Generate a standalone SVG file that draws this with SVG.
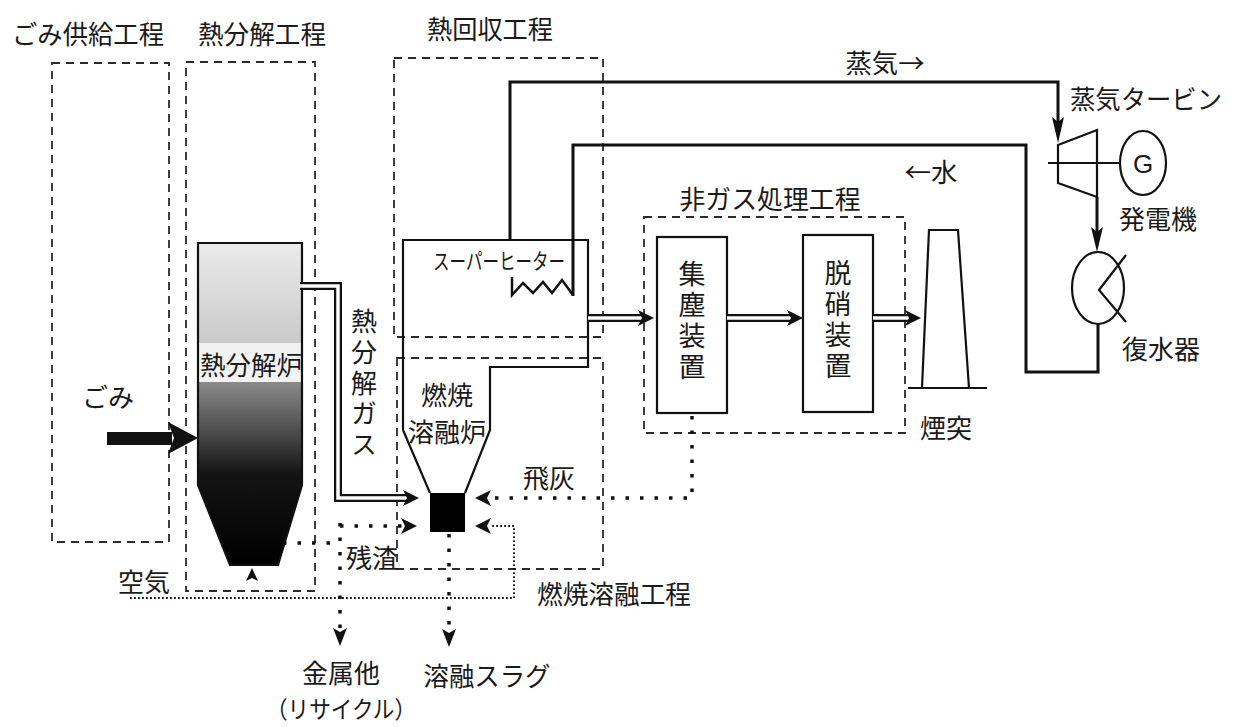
<svg xmlns="http://www.w3.org/2000/svg" width="1238" height="727" viewBox="0 0 1238 727">
  <style>
    .lbl { font-family: "Noto Sans CJK JP", "Liberation Sans", sans-serif; font-size: 26px; fill: #1a1a1a; text-anchor: middle; dominant-baseline: central; }
    .small { font-size: 22px; }
    .vert { writing-mode: vertical-rl; text-orientation: upright; }
    .zone { fill: none; stroke: #2a2a2a; stroke-width: 1.8; stroke-dasharray: 8 6; }
    .eq { fill: none; stroke: #111; stroke-width: 2.2; }
    .pipe { fill: none; stroke: #111; stroke-width: 3; }
    .gasOuter { fill: none; stroke: #111; stroke-width: 8; }
    .gasInner { fill: none; stroke: #fff; stroke-width: 3.5; }
    .dots { fill: none; stroke: #111; stroke-width: 3.5; stroke-dasharray: 3.5 11; }
    .fine { fill: none; stroke: #111; stroke-width: 1.8; stroke-dasharray: 1.8 2.2; }
    .head { fill: #111; stroke: none; }
  </style>
  <defs>
    <linearGradient id="upperBed" x1="0" y1="0" x2="0" y2="1">
      <stop offset="0" stop-color="#ececec"/>
      <stop offset="1" stop-color="#c9c9c9"/>
    </linearGradient>
    <linearGradient id="lowerBed" gradientUnits="userSpaceOnUse" x1="0" y1="382" x2="0" y2="565">
      <stop offset="0" stop-color="#8a8a8a"/>
      <stop offset="0.28" stop-color="#4a4a4a"/>
      <stop offset="0.5" stop-color="#141414"/>
      <stop offset="1" stop-color="#000"/>
    </linearGradient>
    <clipPath id="furnaceClip">
      <path d="M198,243 H302 V485 L278,565 H230 L198,485 Z"/>
    </clipPath>
  </defs>

  <rect width="1238" height="727" fill="#fff"/>

  <!-- process zones -->
  <g id="zone-supply">
    <rect class="zone" x="52" y="63" width="117" height="479"/>
    <text class="lbl" x="88" y="32" textLength="152" lengthAdjust="spacingAndGlyphs">ごみ供給工程</text>
  </g>
  <g id="zone-pyrolysis">
    <rect class="zone" x="186" y="62" width="129" height="529"/>
    <text class="lbl" x="262" y="32" textLength="128" lengthAdjust="spacingAndGlyphs">熱分解工程</text>
  </g>
  <g id="zone-heat-recovery">
    <rect class="zone" x="394" y="58" width="209" height="279"/>
    <text class="lbl" x="490" y="27" textLength="126" lengthAdjust="spacingAndGlyphs">熱回収工程</text>
  </g>
  <g id="zone-melting">
    <rect class="zone" x="397" y="358" width="206" height="211"/>
    <text class="lbl" x="614" y="592" textLength="154" lengthAdjust="spacingAndGlyphs">燃焼溶融工程</text>
  </g>
  <g id="zone-gas-treatment">
    <rect class="zone" x="644" y="217" width="261" height="216"/>
    <text class="lbl" x="770" y="197" textLength="181" lengthAdjust="spacingAndGlyphs">非ガス処理工程</text>
  </g>

  <!-- pyrolysis furnace -->
  <g id="pyrolysis-furnace">
    <g clip-path="url(#furnaceClip)">
      <rect x="195" y="240" width="110" height="104" fill="url(#upperBed)"/>
      <rect x="195" y="343" width="110" height="40" fill="#f2f2f2"/>
      <rect x="195" y="382" width="110" height="186" fill="url(#lowerBed)"/>
    </g>
    <path class="eq" d="M198,243 H302 V485 L278,565 H230 L198,485 Z"/>
    <text class="lbl" x="251" y="363" textLength="102" lengthAdjust="spacingAndGlyphs">熱分解炉</text>
  </g>

  <!-- combustion melting furnace with superheater -->
  <g id="melting-furnace">
    <path class="eq" d="M403,430 V240 H588 V367 H490 V430 L465,493 M403,430 L430,493"/>
    <rect x="430" y="493" width="35" height="39" fill="#000"/>
    <text class="lbl small" x="499" y="259" textLength="132" lengthAdjust="spacingAndGlyphs">スーパーヒーター</text>
    <path fill="none" stroke="#111" stroke-width="2.5" d="M512,277 V295 L523,283 L533,293 L543,282 L552,293 L562,280 L573,295"/>
    <text class="lbl" x="447" y="393">燃焼</text>
    <text class="lbl" x="447" y="430">溶融炉</text>
  </g>

  <g id="dust-collector">
    <rect class="eq" x="657" y="237" width="70" height="176"/>
    <text class="lbl vert" x="692" y="322" style="font-size:27px; letter-spacing:4px">集塵装置</text>
  </g>

  <g id="denox">
    <rect class="eq" x="803" y="235" width="70" height="177"/>
    <text class="lbl vert" x="838" y="321" style="font-size:27px; letter-spacing:4px">脱硝装置</text>
  </g>

  <g id="stack">
    <path class="eq" d="M922,388 L929,230 H958 L969,388"/>
    <path class="eq" d="M908,388 H987"/>
    <text class="lbl" x="946" y="426">煙突</text>
  </g>

  <g id="steam-turbine">
    <polygon class="eq" points="1058,145 1097,130 1097,197 1058,183"/>
    <path class="eq" d="M1048,163 H1120"/>
    <text class="lbl" x="1146" y="97" textLength="152" lengthAdjust="spacingAndGlyphs">蒸気タービン</text>
  </g>

  <g id="generator">
    <ellipse class="eq" cx="1143" cy="163" rx="23" ry="32"/>
    <text x="1143" y="164" font-family="Liberation Sans, sans-serif" font-size="26" fill="#1a1a1a" text-anchor="middle" dominant-baseline="central">G</text>
    <text class="lbl" x="1158" y="217">発電機</text>
  </g>

  <g id="condenser">
    <ellipse class="eq" cx="1098" cy="288" rx="26" ry="36"/>
    <polyline class="eq" points="1126,255 1099,290 1126,322"/>
    <text class="lbl" x="1161" y="347">復水器</text>
  </g>

  <!-- flows -->
  <g id="connectors">
    <!-- waste feed -->
    <rect x="107" y="432" width="65" height="13" fill="#111"/>
    <polygon class="head" points="198,438 168,422 174,438 168,454"/>
    <text class="lbl" x="108" y="395">ごみ</text>

    <!-- pyrolysis gas -->
    <path class="gasOuter" d="M300,286 H338 V498 H408"/>
    <path class="gasInner" d="M300,286 H338 V498 H408"/>
    <polygon class="head" points="419,498 403,490 407,498 403,506"/>
    <text class="lbl vert" x="364" y="385" style="letter-spacing:4.6px">熱分解ガス</text>

    <!-- flue gas -->
    <path class="gasOuter" d="M588,318 H643"/>
    <path class="gasInner" d="M588,318 H643"/>
    <polygon class="head" points="654,318 638,310 642,318 638,326"/>
    <path class="gasOuter" d="M727,318 H792"/>
    <path class="gasInner" d="M727,318 H792"/>
    <polygon class="head" points="803,318 787,310 791,318 787,326"/>
    <path class="gasOuter" d="M873,318 H910"/>
    <path class="gasInner" d="M873,318 H910"/>
    <polygon class="head" points="921,318 905,310 909,318 905,326"/>

    <!-- steam / water loop -->
    <path class="pipe" d="M510,240 V82 H1058 V124"/>
    <polygon class="head" points="1058,143 1052,117 1058,122 1064,117"/>
    <text class="lbl" x="885" y="61" textLength="79" lengthAdjust="spacingAndGlyphs">蒸気→</text>
    <path class="pipe" d="M1097,197 V232"/>
    <polygon class="head" points="1097,252 1091,227 1097,232 1103,227"/>
    <path class="pipe" d="M1098,324 V372 H1026 V145 H573 V296"/>
    <text class="lbl" x="931" y="170" textLength="53" lengthAdjust="spacingAndGlyphs">←水</text>

    <!-- fly ash -->
    <path class="dots" d="M692,416 V498 H492"/>
    <polygon class="head" points="475,498 491,490 487,498 491,506"/>
    <text class="lbl" x="549" y="476">飛灰</text>

    <!-- residue -->
    <path class="dots" d="M283,543 H340"/>
    <path class="dots" d="M340,523 V630"/>
    <path class="dots" d="M340,526 H402"/>
    <polygon class="head" points="417,526 401,518 405,526 401,534"/>
    <polygon class="head" points="340,646 333,628 340,632 347,628"/>
    <text class="lbl" x="372" y="556">残渣</text>
    <text class="lbl" x="341" y="671">金属他</text>
    <text class="lbl" x="341" y="707" style="font-size:24px" textLength="150" lengthAdjust="spacingAndGlyphs">（リサイクル）</text>

    <!-- slag -->
    <path class="dots" d="M449,534 V630"/>
    <polygon class="head" points="449,647 442,629 449,633 456,629"/>
    <text class="lbl" x="487" y="674" textLength="127" lengthAdjust="spacingAndGlyphs">溶融スラグ</text>

    <!-- air -->
    <path class="fine" d="M130,598 H514 V526 H492"/>
    <polygon class="head" points="475,526 491,518 487,526 491,534"/>
    <polygon class="head" points="252,568 246,581 252,578 258,581"/>
    <text class="lbl" x="144" y="580">空気</text>
  </g>
</svg>
